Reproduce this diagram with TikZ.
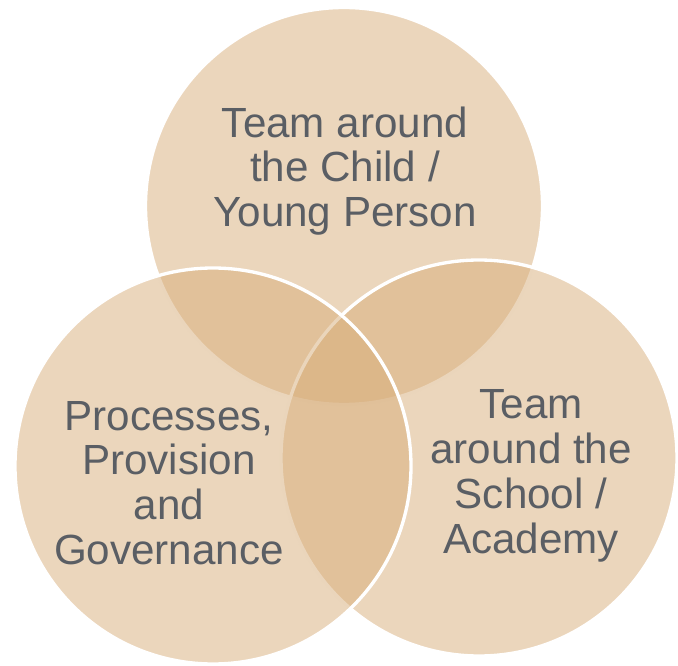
\documentclass[tikz,border=0pt]{standalone}
\usepackage{fontspec}
\setmainfont{Liberation Sans}
\definecolor{tan}{RGB}{215,173,121}
\definecolor{labelgray}{RGB}{90,94,100}
\tikzset{
    venn/.style={fill=tan, fill opacity=0.5, draw=white, line width=1.9pt},
    label/.style={text=labelgray, align=center, font=\fontsize{24}{25.5}\selectfont}
}
\begin{document}
\begin{tikzpicture}
        \useasboundingbox (0,0) rectangle (13.56,13.3);
        \coordinate (T) at (6.88, 9.18);
        \coordinate (R) at (9.58, 4.14);
        \coordinate (L) at (4.26, 3.98);
        \filldraw [venn] (T) circle (3.97);
        \filldraw [venn] (R) circle (3.96);
        \filldraw [venn] (L) circle (3.96);
        \node [label] (child) at (6.90, 9.88) {Team around\\the Child /\\Young Person};
        \node [label] (process) at (3.38, 3.64) {Processes,\\Provision\\and\\Governance};
        \node [label] (school) at (10.62, 3.78) {Team\\around the\\School /\\Academy};

    \end{tikzpicture}
\end{document}
